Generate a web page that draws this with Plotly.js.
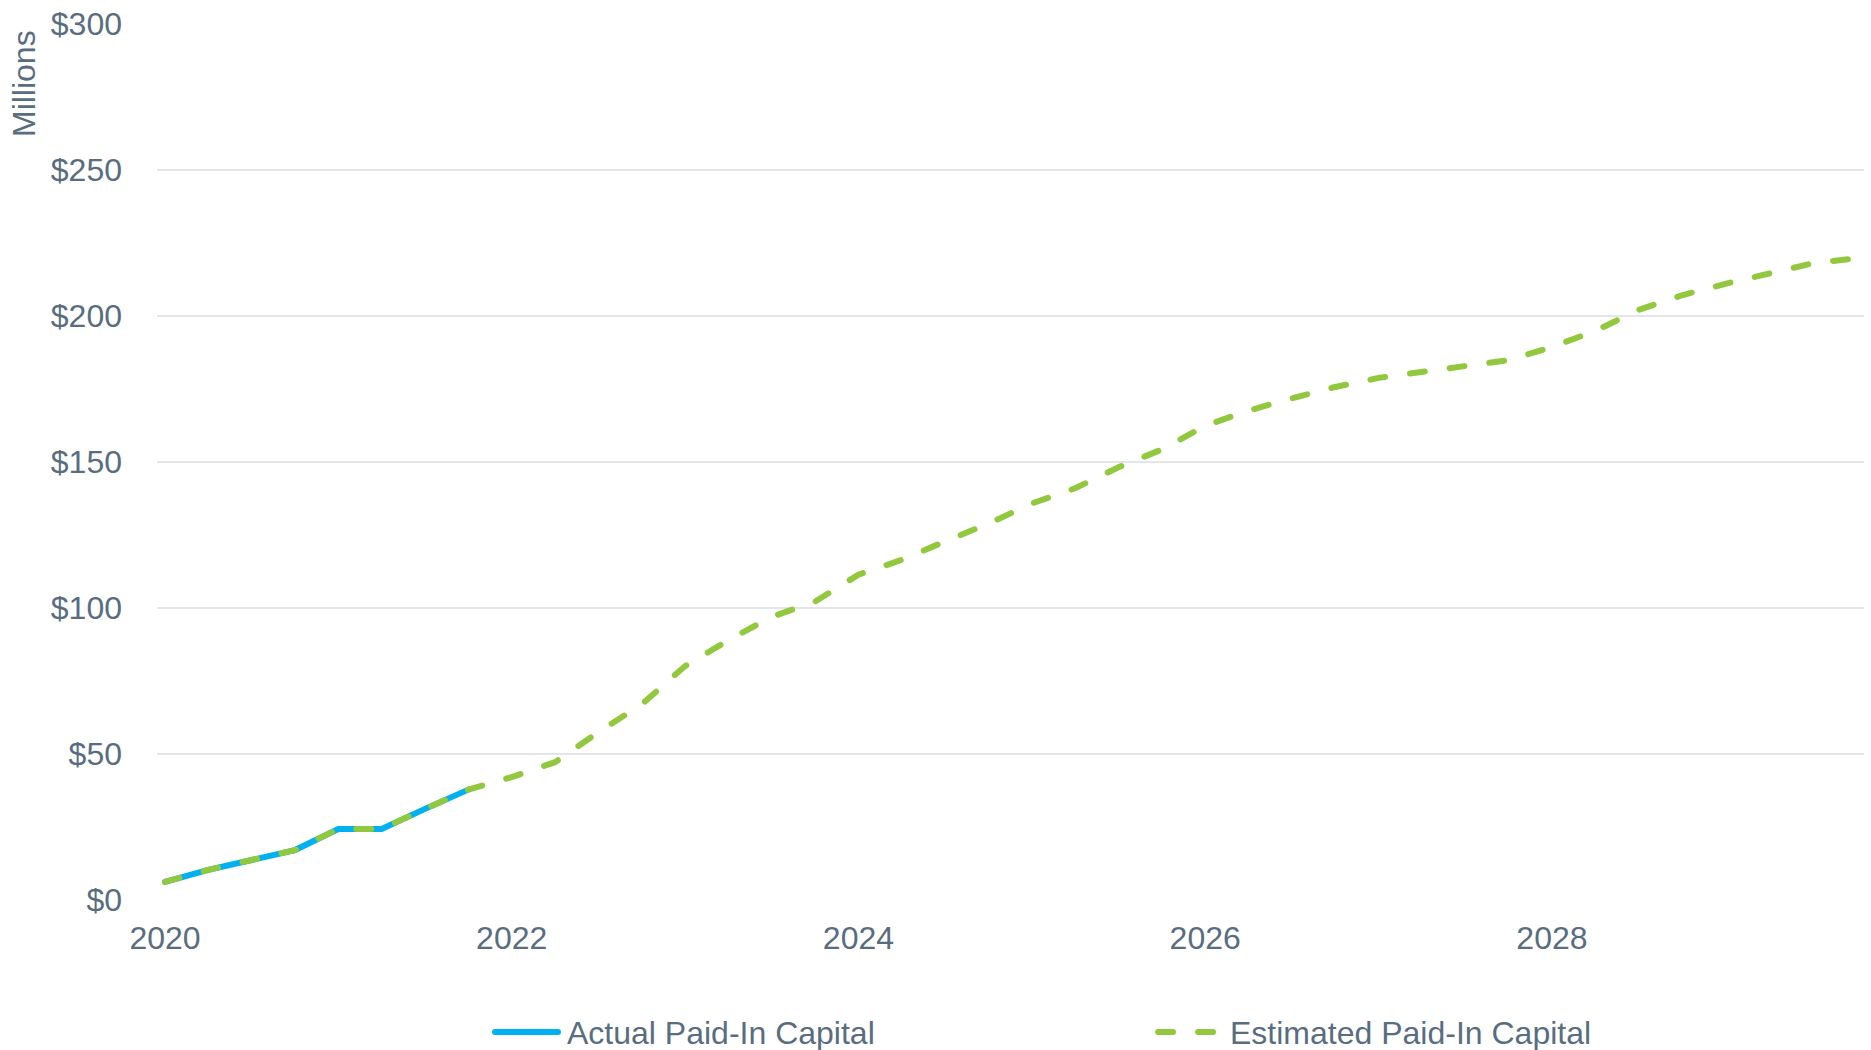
<!DOCTYPE html>
<html>
<head>
<meta charset="utf-8">
<script src="https://cdn.plot.ly/plotly-3.0.1.min.js"></script>
<style>
  html, body { margin: 0; padding: 0; background: #ffffff; }
  #chart { width: 1871px; height: 1050px; }
  #chart .scatterlayer .js-line { stroke-linecap: round; }
  #chart .legendlines path { stroke-linecap: round; }
</style>
</head>
<body>
<div id="chart"></div>
<script>
// Quarterly time points (year fractions)
const quarters = [
  2020.00, 2020.25, 2020.50, 2020.75,
  2021.00, 2021.25, 2021.50, 2021.75,
  2022.00, 2022.25, 2022.50, 2022.75,
  2023.00, 2023.25, 2023.50, 2023.75,
  2024.00, 2024.25, 2024.50, 2024.75,
  2025.00, 2025.25, 2025.50, 2025.75,
  2026.00, 2026.25, 2026.50, 2026.75,
  2027.00, 2027.25, 2027.50, 2027.75,
  2028.00, 2028.25, 2028.50, 2028.75,
  2029.00, 2029.25, 2029.50, 2029.75
];

// Actual Paid-In Capital ($ millions), 2020 Q1 – 2021 Q4
const actualQuarters = [2020.00, 2020.25, 2020.50, 2020.75, 2021.00, 2021.25, 2021.50, 2021.75];
const actualValues = [6.2, 10.3, 13.7, 17.1, 24.3, 24.3, 31.2, 37.8];

// Estimated Paid-In Capital ($ millions)
const estimatedValues = [
  6.2, 10.3, 13.7, 17.1,
  24.3, 24.3, 31.2, 37.8,
  42.1, 47.2, 57.5, 67.0,
  80.1, 89.0, 97.0, 102.2,
  111.4, 116.5, 122.8, 128.9,
  135.8, 141.0, 148.2, 154.3,
  162.4, 167.6, 171.8, 175.7,
  178.8, 180.9, 183.0, 184.9,
  189.4, 194.9, 202.1, 207.1,
  211.0, 214.4, 218.0, 219.7
];

const xTickVals = [2020, 2022, 2024, 2026, 2028];
const xTickText = ["2020", "2022", "2024", "2026", "2028"];
const seriesNames = ["Actual Paid-In Capital", "Estimated Paid-In Capital"];
const yAxisLabel = "Millions";

const textColor = "#596d80";
const fontFamily = "Liberation Sans, Arial, sans-serif";

const traces = [
  {
    x: actualQuarters,
    y: actualValues,
    name: seriesNames[0],
    type: "scatter",
    mode: "lines",
    line: { color: "#00b0f0", width: 6 },
    hoverinfo: "x+y"
  },
  {
    x: quarters,
    y: estimatedValues,
    name: seriesNames[1],
    type: "scatter",
    mode: "lines",
    line: { color: "#92c83e", width: 6, dash: "15px,25px" },
    hoverinfo: "x+y"
  }
];

const layout = {
  width: 1871,
  height: 1050,
  margin: { l: 157, r: 7, t: 24, b: 150 },
  paper_bgcolor: "#ffffff",
  plot_bgcolor: "#ffffff",
  font: { family: fontFamily, size: 32, color: textColor },
  showlegend: true,
  legend: {
    orientation: "h",
    xref: "container",
    yref: "container",
    x: 0.2603,
    xanchor: "left",
    y: 0.017,
    yanchor: "middle",
    font: { family: fontFamily, size: 32, color: textColor },
    itemwidth: 70,
    entrywidth: 578,
    entrywidthmode: "pixels",
    bgcolor: "rgba(0,0,0,0)"
  },
  xaxis: {
    type: "linear",
    range: [2019.954, 2029.8],
    tickmode: "array",
    tickvals: xTickVals,
    ticktext: xTickText,
    showgrid: false,
    zeroline: false,
    showline: false,
    ticks: "",
    ticklabelstandoff: 16,
    tickfont: { family: fontFamily, size: 32, color: textColor }
  },
  yaxis: {
    range: [0, 300],
    dtick: 50,
    tick0: 0,
    tickprefix: "$",
    showgrid: true,
    gridcolor: "#e2e5ea",
    gridwidth: 1.5,
    zeroline: false,
    showline: false,
    ticks: "",
    ticklabelstandoff: 34,
    tickfont: { family: fontFamily, size: 32, color: textColor }
  },
  annotations: [
    {
      text: yAxisLabel,
      xref: "paper",
      yref: "paper",
      x: -0.0779,
      y: 0.9315,
      xanchor: "center",
      yanchor: "middle",
      textangle: -90,
      showarrow: false,
      font: { family: fontFamily, size: 32, color: textColor }
    }
  ]
};

Plotly.newPlot("chart", traces, layout, { displayModeBar: false, staticPlot: true }).then(function (gd) {
  // lengthen legend line samples to match the reference's longer swatches
  gd.querySelectorAll(".legendlines path").forEach(function (p) {
    p.setAttribute("d", "M8,0h63");
  });
});
</script>
</body>
</html>
